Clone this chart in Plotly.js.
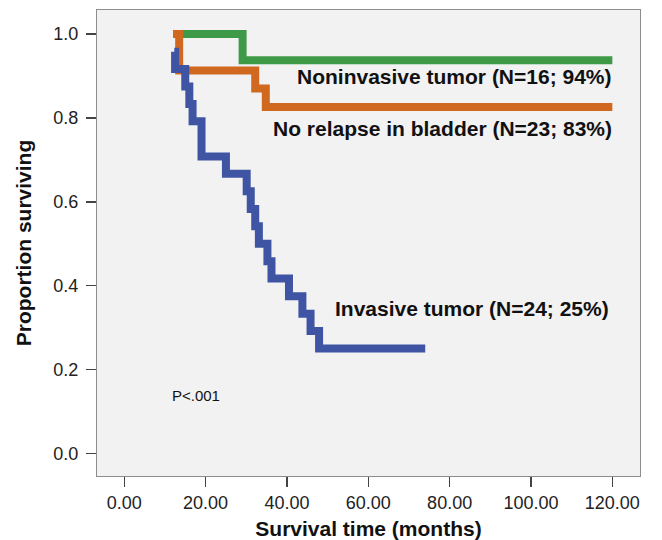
<!DOCTYPE html>
<html>
<head>
<meta charset="utf-8">
<script src="https://cdn.plot.ly/plotly-3.0.1.min.js"></script>
<style>html,body{margin:0;padding:0;background:#fff;}#chart{width:662px;height:540px;}</style>
</head>
<body>
<div id="chart"></div>
<script>
// Survival (Kaplan-Meier) step data
const nonInvasiveTime = [12, 29.1, 120];
const nonInvasiveSurv = [1.0, 0.9375, 0.9375];

const noRelapseTime = [12, 13.5, 32.2, 34.8, 120];
const noRelapseSurv = [1.0, 0.913, 0.870, 0.826, 0.826];

const invasiveTime = [12.3, 12.5, 15, 16, 16.8, 19, 25, 30.1, 31.1, 32.2, 33.1, 35.2, 36.2, 40.5, 43.8, 45.8, 47.9, 74];
const invasiveSurv = [0.958, 0.917, 0.875, 0.833, 0.792, 0.708, 0.667, 0.625, 0.583, 0.542, 0.5, 0.458, 0.417, 0.375, 0.333, 0.292, 0.25, 0.25];

const xTickVals = [0, 20, 40, 60, 80, 100, 120];
const xTickText = ["0.00", "20.00", "40.00", "60.00", "80.00", "100.00", "120.00"];
const yTickVals = [0, 0.2, 0.4, 0.6, 0.8, 1.0];
const yTickText = ["0.0", "0.2", "0.4", "0.6", "0.8", "1.0"];

const labels = [
  {text: "Noninvasive tumor (N=16; 94%)", x: 120.3, y: 0.898},
  {text: "No relapse in bladder (N=23; 83%)", x: 120.3, y: 0.774},
  {text: "Invasive tumor (N=24; 25%)", x: 119.6, y: 0.345}
];
const pText = "P<.001";

const green = "#3e9a47", orange = "#d0691f", blue = "#3f55a4";
const lw = 8;

const traces = [
  {x: nonInvasiveTime, y: nonInvasiveSurv, type: "scatter", mode: "lines", line: {shape: "hv", color: green, width: lw}, hoverinfo: "skip"},
  {x: noRelapseTime, y: noRelapseSurv, type: "scatter", mode: "lines", line: {shape: "hv", color: orange, width: lw}, hoverinfo: "skip"},
  {x: invasiveTime, y: invasiveSurv, type: "scatter", mode: "lines", line: {shape: "hv", color: blue, width: lw}, hoverinfo: "skip"}
];

const fam = "'Liberation Sans', Arial, sans-serif";
const annotations = labels.map(l => ({
  text: "<b>" + l.text + "</b>", x: l.x, y: l.y, xref: "x", yref: "y",
  xanchor: "right", yanchor: "middle", showarrow: false,
  font: {family: fam, size: 21, color: "#111"}
}));
annotations.push({text: pText, x: 11.3, y: 0.139, xref: "x", yref: "y", xanchor: "left", yanchor: "middle",
  showarrow: false, font: {family: fam, size: 15, color: "#111"}});

const layout = {
  width: 662, height: 540,
  margin: {l: 97, r: 22, t: 10, b: 64, pad: 0},
  paper_bgcolor: "#ffffff", plot_bgcolor: "#f2f2f2",
  showlegend: false,
  font: {family: fam, color: "#222"},
  xaxis: {
    range: [-6.7, 126.8], tickvals: xTickVals, ticktext: xTickText,
    ticks: "outside", ticklen: 10, tickwidth: 1.5, tickcolor: "#444",
    showline: true, mirror: true, linecolor: "#8c8c8c", linewidth: 1.2,
    showgrid: false, zeroline: false, ticklabelstandoff: 0,
    tickfont: {family: fam, size: 18, color: "#222"},
    title: {text: "<b>Survival time (months)</b>", font: {family: fam, size: 21, color: "#111"}, standoff: 10}
  },
  yaxis: {
    range: [-0.054, 1.0575], tickvals: yTickVals, ticktext: yTickText,
    ticks: "outside", ticklen: 10, tickwidth: 1.5, tickcolor: "#444",
    showline: true, mirror: true, linecolor: "#8c8c8c", linewidth: 1.2,
    showgrid: false, zeroline: false, ticklabelstandoff: 4,
    tickfont: {family: fam, size: 18, color: "#222"},
    title: {text: "<b>Proportion surviving</b>", font: {family: fam, size: 21, color: "#111"}, standoff: 15}
  },
  annotations: annotations
};

Plotly.newPlot("chart", traces, layout, {displayModeBar: false, staticPlot: true});
</script>
</body>
</html>
